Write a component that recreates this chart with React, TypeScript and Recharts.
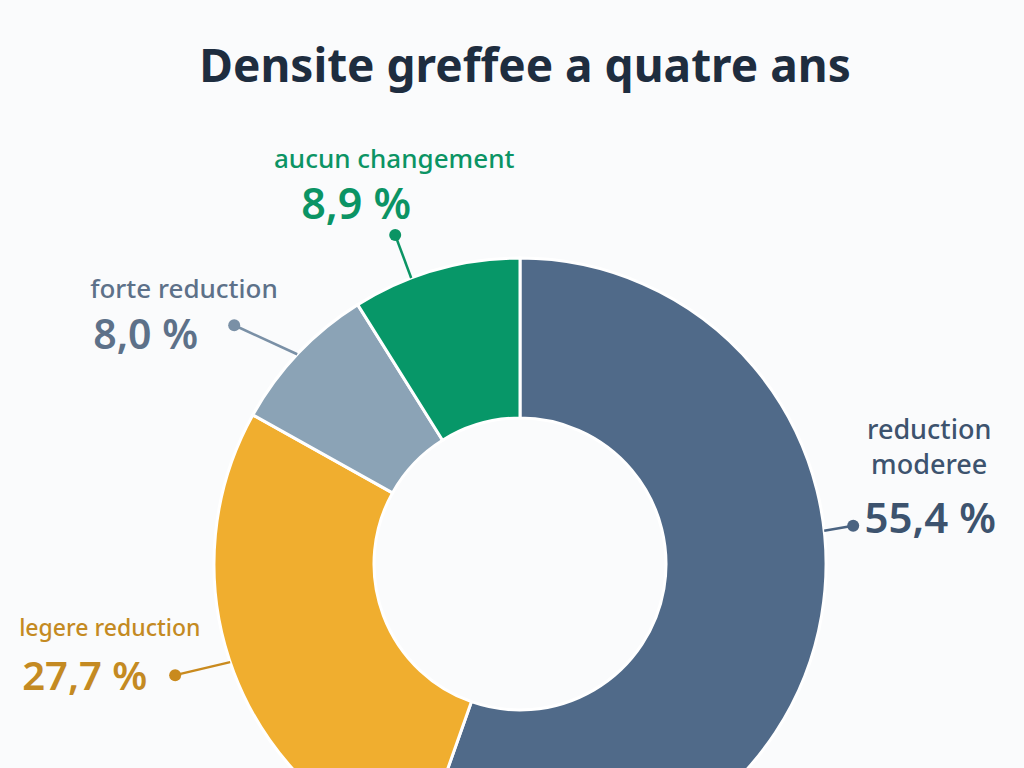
import { Pie, PieChart, Cell } from 'recharts'

const categories = ['reduction moderee', 'legere reduction', 'forte reduction', 'aucun changement']
const shares = [55.4, 27.7, 8.0, 8.9]
const sliceColors = ['#506a89', '#f0ae2f', '#8ba3b6', '#079768']
const textColors = ['#3d536e', '#c48a22', '#5d7189', '#0b9464']
const lineColors = ['#4a6381', '#c98a1e', '#7a90a6', '#0b9464']

const TITLE = 'Densite greffee a quatre ans'
const FONT = '"Noto Sans", sans-serif'

// Where each leader line leaves its slice and where its text sits, relative to the dot.
const layout = [
  { frac: 0.42, dot: [29, -5], anchor: 'middle', nameX: 76, valueX: 77, nameY: [-87, -52], valueY: 7, nameSize: 27, valueSize: 42, wrap: true },
  { frac: 0.52, dot: [-55, 13], anchor: 'start', nameX: -156, valueX: -153, nameY: [-39], valueY: 15, nameSize: 23, valueSize: 40, wrap: false },
  { frac: 0.49, dot: [-63, -29], anchor: 'start', nameX: -144, valueX: -141, nameY: [-27], valueY: 24, nameSize: 26, valueSize: 41, wrap: false },
  { frac: 0.35, dot: [-16, -43], anchor: 'middle', nameX: -1, valueX: -39, nameY: [-67], valueY: -16, nameSize: 26, valueSize: 43, wrap: false },
] as const

const data = categories.map((name, i) => ({ name, value: shares[i] }))
const fmt = (v: number) => `${v.toFixed(1).replace('.', ',')} %`
const RAD = Math.PI / 180

function renderLabel(props: any) {
  const { cx, cy, outerRadius, startAngle, endAngle, midAngle, index, name, value } = props
  const l = layout[index]
  const angle =
    startAngle != null && endAngle != null ? startAngle + l.frac * (endAngle - startAngle) : midAngle
  const ax = cx + outerRadius * Math.cos(-angle * RAD)
  const ay = cy + outerRadius * Math.sin(-angle * RAD)
  const dx = ax + l.dot[0]
  const dy = ay + l.dot[1]
  const lines = l.wrap ? String(name).split(' ') : [String(name)]
  return (
    <g key={`lbl-${index}`}>
      <line x1={ax} y1={ay} x2={dx} y2={dy} stroke={lineColors[index]} strokeWidth={2.5} />
      <circle cx={dx} cy={dy} r={6} fill={lineColors[index]} />
      {lines.map((t, k) => (
        <text
          key={k}
          x={dx + l.nameX}
          y={dy + l.nameY[k]}
          textAnchor={l.anchor}
          fill={textColors[index]}
          fontFamily={FONT}
          fontWeight={500}
          fontSize={l.nameSize}
        >
          {t}
        </text>
      ))}
      <text
        x={dx + l.valueX}
        y={dy + l.valueY}
        textAnchor={l.anchor}
        fill={textColors[index]}
        fontFamily={FONT}
        fontWeight={600}
        fontSize={l.valueSize}
      >
        {fmt(value)}
      </text>
    </g>
  )
}

export default function App() {
  return (
    <div
      style={{
        position: 'fixed',
        top: 0,
        left: 0,
        width: 1024,
        height: 768,
        background: '#fafbfc',
        overflow: 'hidden',
        fontFamily: FONT,
      }}
    >
      <div
        style={{
          position: 'absolute',
          top: 38,
          left: 0,
          width: 1050,
          textAlign: 'center',
          fontSize: 46,
          fontWeight: 700,
          lineHeight: '52px',
          color: '#1e2d3f',
        }}
      >
        {TITLE}
      </div>
      <PieChart width={1024} height={768} margin={{ top: 0, right: 0, bottom: 0, left: 0 }}>
        <Pie
          data={data}
          dataKey="value"
          nameKey="name"
          cx={520}
          cy={564}
          innerRadius={146}
          outerRadius={306}
          startAngle={90}
          endAngle={-270}
          stroke="#ffffff"
          strokeWidth={3}
          label={renderLabel}
          labelLine={false}
          isAnimationActive={false}
        >
          {data.map((d, i) => (
            <Cell key={d.name} fill={sliceColors[i]} />
          ))}
        </Pie>
      </PieChart>
    </div>
  )
}
